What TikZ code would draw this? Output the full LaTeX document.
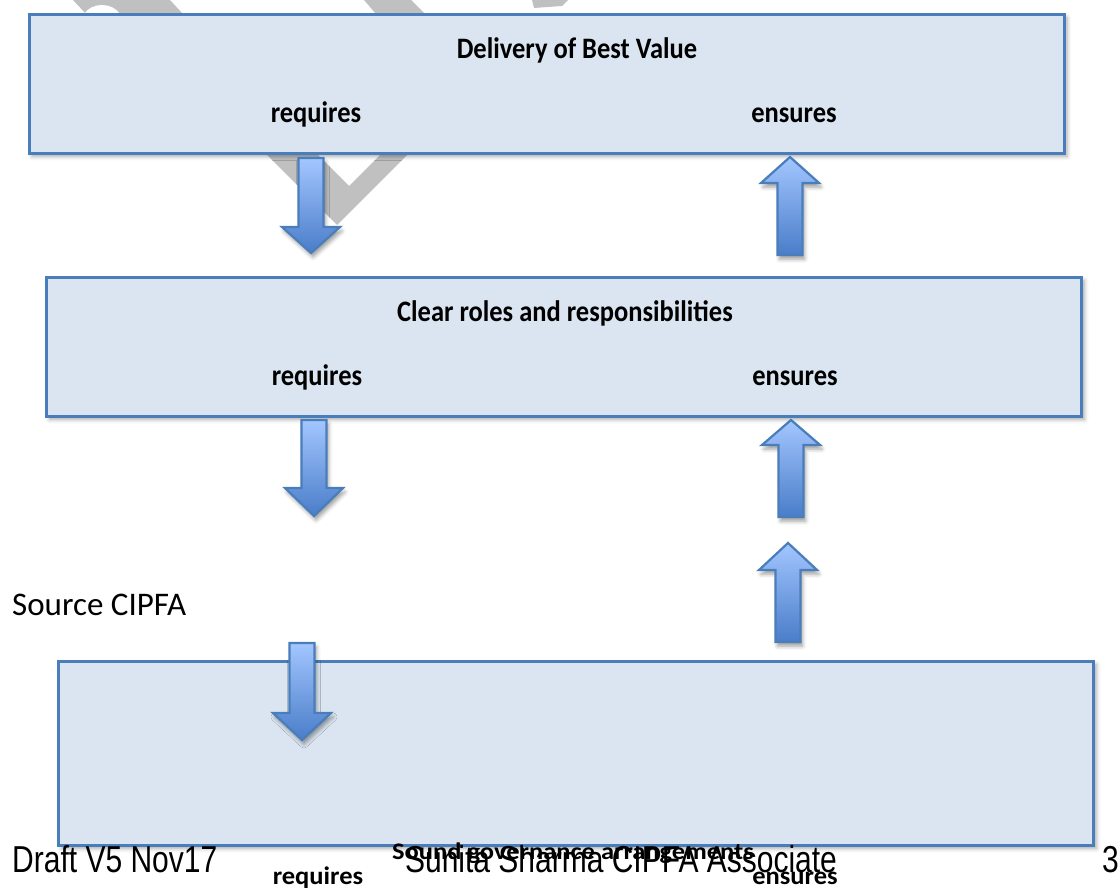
\documentclass[tikz,border=0pt]{standalone}
\usepackage{fontspec}
\setmainfont{Carlito}
\newfontfamily\arialf{Liberation Sans}
\usetikzlibrary{shadows.blur}
\definecolor{boxfill}{HTML}{DBE5F1}
\definecolor{boxline}{HTML}{4A7EBB}
\definecolor{arrtop}{HTML}{A3C6FF}
\definecolor{arrbot}{HTML}{4A7DC9}
\definecolor{wmgray}{HTML}{C0C0C0}
\newcommand{\blkdown}[4]{% x, top, head base, tip
  \path[barrow] (#1-12.5,#2) -- (#1+12.5,#2) -- (#1+12.5,#3) -- (#1+29,#3) -- (#1,#4) -- (#1-29,#3) -- (#1-12.5,#3) -- cycle;}
\newcommand{\blkup}[4]{% x, tip, head base, bottom
  \path[barrow] (#1,#2) -- (#1+29,#3) -- (#1+12.5,#3) -- (#1+12.5,#4) -- (#1-12.5,#4) -- (#1-12.5,#3) -- (#1-29,#3) -- cycle;}
\begin{document}
\begin{tikzpicture}[x=1pt,y=-1pt,
  boxstyle/.style={draw=boxline, line width=3pt, fill=boxfill, rectangle, inner sep=0pt,
    blur shadow={shadow xshift=3pt, shadow yshift=-3pt, shadow blur radius=4pt, shadow opacity=35}},
  barrow/.style={draw=boxline, line width=2.2pt, line join=miter, top color=arrtop, bottom color=arrbot,
    blur shadow={shadow xshift=2pt, shadow yshift=-4pt, shadow blur radius=4pt, shadow opacity=40}},
  lbl/.style={font=\bfseries\fontsize{26.5}{30}\selectfont, inner sep=0pt, anchor=base, yscale=1.12},
  foot/.style={font=\arialf\fontsize{30}{36}\selectfont, inner sep=0pt, anchor=base, yscale=1.25}]
\useasboundingbox (0,0) rectangle (1119,890);
% watermark pieces
\fill[wmgray] (252,140) -- (337,225) -- (422,140) -- (395,140) -- (349,186) -- (303,140) -- cycle;
\fill[wmgray] (73,0) -- (170,0) -- (183,14) -- (86,14) -- cycle;
\fill[white] (84,14) .. controls (92,2) and (112,2) .. (120,14) -- cycle;
\fill[wmgray] (364,0) -- (411,0) -- (425,14) -- (376,14) -- cycle;
\fill[wmgray] (532,0) -- (568,0) -- (562,6) -- (534,8) -- cycle;
% boxes
\node[boxstyle, minimum width=1035pt, minimum height=139pt] (b1) at (546.5,84) {};
\node[boxstyle, minimum width=1035pt, minimum height=139pt] (b2) at (564,347) {};
\node[boxstyle, minimum width=1035pt, minimum height=184pt] (b3) at (576,753.5) {};
% arrows
\blkdown{311}{158}{227}{253}
\blkup{790}{157}{183}{255}
\blkdown{314}{420}{488}{516}
\blkup{791}{420}{445}{517}
\blkup{788}{543}{570}{642}
\blkdown{302}{643}{713}{740}
% texts
\node[lbl] (t1) at (577,59) {Delivery of Best Value};
\node[lbl] (r1) at (316,123) {requires};
\node[lbl] (e1) at (794,123) {ensures};
\node[lbl] (t2) at (565,322) {Clear roles and responsibilities};
\node[lbl] (r2) at (317,386) {requires};
\node[lbl] (e2) at (795,386) {ensures};
\node[font=\fontsize{33}{40}\selectfont, inner sep=0pt, anchor=base west] (src) at (12,615) {Source CIPFA};
\node[foot, anchor=base west] (draft) at (12,872) {Draft V5 Nov17};
\node[foot] (sun) at (621,872) {Sunita Sharma CIPFA Associate};
\node[foot, anchor=base east] (pg) at (1119,872) {3};
\node[lbl, yscale=0.8] (t3) at (573,859) {Sound governance arrangements};
\node[lbl, yscale=0.85] (r3) at (318,884) {requires};
\node[lbl, yscale=0.85] (e3) at (795,884) {ensures};
\end{tikzpicture}
\end{document}
